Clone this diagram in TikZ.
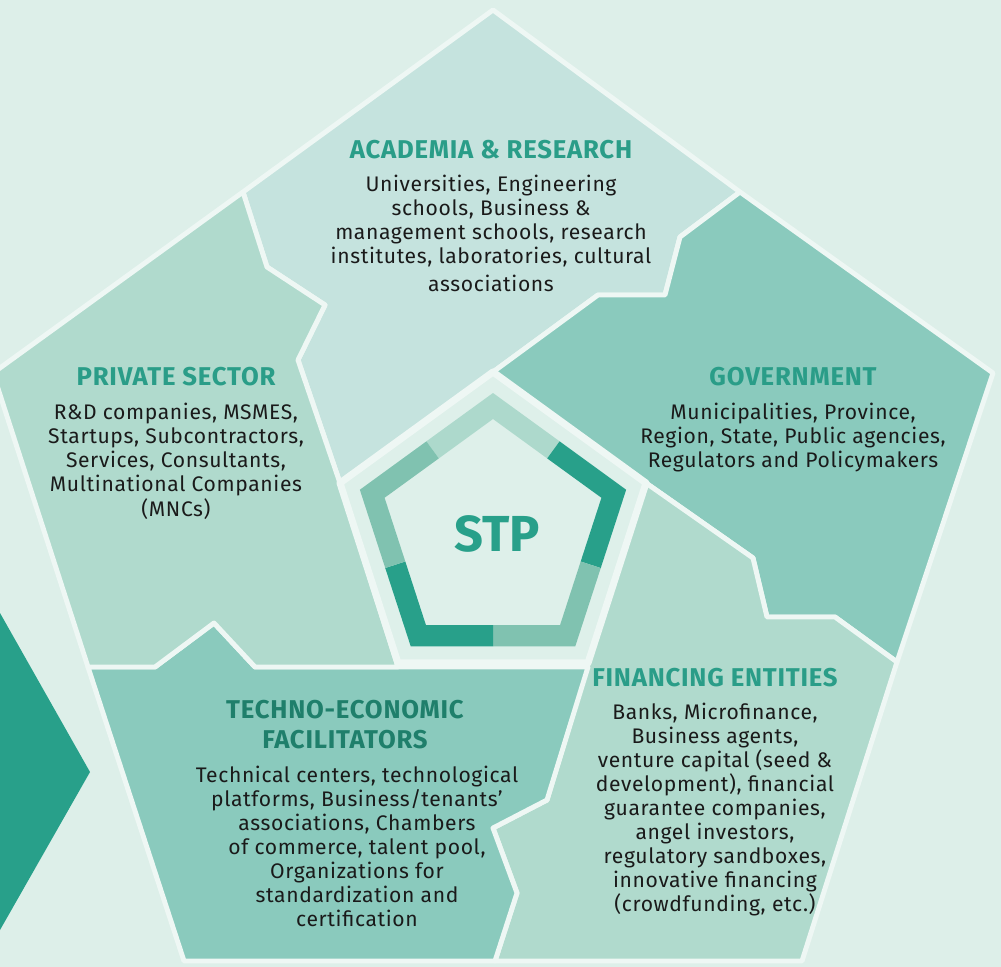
\documentclass[tikz,border=0pt]{standalone}
\usepackage{fontspec}
\setmainfont{Fira Sans}
\newfontfamily\spacedfont[LetterSpace=3, Ligatures=TeX]{Fira Sans}
\usepackage{tikz}
\usetikzlibrary{positioning}
\definecolor{bgmint}{HTML}{DDEFE9}
\definecolor{hubfill}{HTML}{DEF0EA}
\definecolor{seamwhite}{HTML}{EEF7F4}
\definecolor{acadfill}{HTML}{C5E3DE}
\definecolor{palefill}{HTML}{B0DACD}
\definecolor{midfill}{HTML}{8ACABD}
\definecolor{stpteal}{HTML}{28A08A}
\definecolor{ringmid}{HTML}{80C2B0}
\definecolor{ringlight}{HTML}{ADD9CC}
\definecolor{headteal}{HTML}{2A9D88}
\definecolor{headdark}{HTML}{1F7F6B}
\definecolor{inkblack}{HTML}{1A1A1A}

\begin{document}
\begin{tikzpicture}[
  x=0.025cm, y=-0.025cm,
  every node/.style={align=center, inner sep=0pt},
  head/.style={font=\spacedfont\fontsize{18.3}{21.3}\selectfont\bfseries, text=headteal},
  body/.style={font=\spacedfont\fontsize{15}{17.1}\selectfont, text=inkblack},
  region/.style={draw=seamwhite, line width=3.5pt, line join=round},
]
  \useasboundingbox[fill=bgmint] (0,0) rectangle (1001,967);
  % tip of the neighbouring shape on the left
  \fill[stpteal] (0,613) -- (90,772) -- (0,930) -- cycle;

  % the five sectors
  \filldraw[region, fill=acadfill] (243,192) -- (493,10) -- (740,192) -- (680,237) -- (665,295) -- (598,295)
    -- (493,372) -- (340,483) -- (298,360) -- (325,305) -- (267,267) -- cycle;
  \filldraw[region, fill=midfill] (740,192) -- (993,373) -- (897,662) -- (835,617) -- (767,617) -- (753,558)
    -- (646,483) -- (493,372) -- (598,295) -- (665,295) -- (680,237) -- cycle;
  \filldraw[region, fill=palefill] (646,483) -- (753,558) -- (767,617) -- (835,617) -- (897,662) -- (802,961)
    -- (495,961) -- (517,893) -- (493,828) -- (547,800) -- (588,663) -- cycle;
  \filldraw[region, fill=midfill] (88,667) -- (155,667) -- (214,623) -- (255,667) -- (588,667) -- (547,800)
    -- (493,828) -- (517,893) -- (495,961) -- (184,961) -- cycle;
  \filldraw[region, fill=palefill] (243,192) -- (-7,373) -- (88,667) -- (155,667) -- (214,623) -- (255,667)
    -- (398,667) -- (340,483) -- (298,360) -- (325,305) -- (267,267) -- cycle;

  % hub with its ring
  \filldraw[draw=seamwhite, line width=5pt, fill=hubfill, line join=round]
    (493,372) -- (646,483) -- (588,663) -- (398,663) -- (340,483) -- cycle;
  \begin{scope}[shift={(493,533)}]
    \foreach \a/\c in {-90/ringlight, -18/stpteal, 54/ringmid, 126/stpteal, 198/ringmid}
      \fill[\c] (\a-36:113.3) -- (\a:140) -- (\a+36:113.3) -- (\a+36:92.2) -- (\a:114) -- (\a-36:92.2) -- cycle;
  \end{scope}
  \node[font=\fontsize{36}{40}\selectfont\bfseries, text=stpteal] (stp) at (497,534) {STP};

  % labels
  \node[head] (acadH) at (491,150) {ACADEMIA \& RESEARCH};
  \node[body, below=3.8mm of acadH] (acadB) {Universities, Engineering\\schools, Business \&\\management schools, research\\institutes, laboratories, cultural\\[3pt]associations};

  \node[head] (privH) at (176,377) {PRIVATE SECTOR};
  \node[body, below=4mm of privH] (privB) {R\&D companies, MSMES,\\Startups, Subcontractors,\\Services, Consultants,\\Multinational Companies\\[1pt](MNCs)};

  \node[head] (govH) at (793,377) {GOVERNMENT};
  \node[body, below=4mm of govH] (govB) {Municipalities, Province,\\Region, State, Public agencies,\\Regulators and Policymakers};

  \node[head, text=headdark] (techH) at (345,725) {TECHNO-ECONOMIC\\FACILITATORS};
  \node[body, below=4mm of techH, xshift=3mm] (techB) {Technical centers, technological\\platforms, Business/tenants’\\associations, Chambers\\of commerce, talent pool,\\Organizations for\\standardization and\\certification};

  \node[head] (finH) at (715,678) {FINANCING ENTITIES};
  \node[body, below=3.8mm of finH] (finB) {Banks, Microfinance,\\Business agents,\\venture capital (seed \&\\development), financial\\guarantee companies,\\angel investors,\\regulatory sandboxes,\\innovative financing\\(crowdfunding, etc.)};
\end{tikzpicture}
\end{document}
